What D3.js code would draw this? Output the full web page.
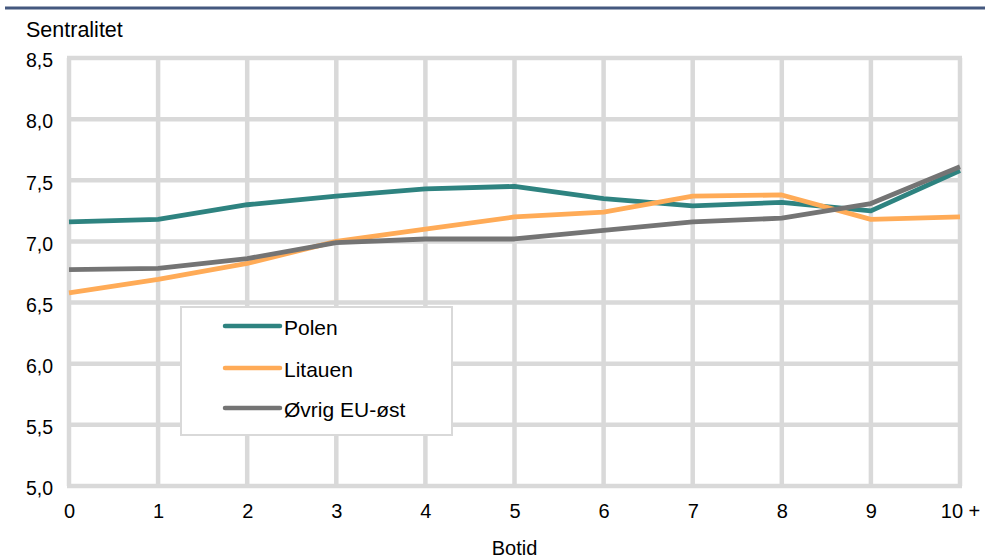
<!DOCTYPE html>
<html><head><meta charset="utf-8">
<script src="https://cdn.jsdelivr.net/npm/d3@7"></script>
<style>body{margin:0;background:#fff}svg{display:block}text{font-family:"Liberation Sans",Arial,sans-serif;fill:#000}</style>
</head><body><svg id="c" width="985" height="559"></svg>
<script>
const categories = ["0","1","2","3","4","5","6","7","8","9","10 +"];
const polen   = [7.16,7.18,7.30,7.37,7.43,7.45,7.35,7.29,7.32,7.25,7.58];
const litauen = [6.58,6.69,6.82,7.00,7.10,7.20,7.24,7.37,7.38,7.18,7.20];
const ovrig   = [6.77,6.78,6.86,6.99,7.02,7.02,7.09,7.16,7.19,7.31,7.61];
const yTicks  = [5.0,5.5,6.0,6.5,7.0,7.5,8.0,8.5];
const seriesNames = ["Polen","Litauen","Øvrig EU-øst"];
const seriesColors = ["#2e8380","#ffab57","#747474"];
const seriesData = [polen, litauen, ovrig];

const svg = d3.select("#c");
const x = d3.scalePoint().domain(categories).range([69,960]);
const y = d3.scaleLinear().domain([5,8.5]).range([486,58]);

// top rule
svg.append("rect").attr("x",5).attr("y",6.5).attr("width",980).attr("height",3).attr("fill","#44587f");

// grid
const g = svg.append("g");
g.selectAll("line.v").data(categories).enter().append("line")
  .attr("x1",d=>x(d)).attr("x2",d=>x(d)).attr("y1",y(8.5)).attr("y2",y(5))
  .attr("stroke","#d9d9d9").attr("stroke-width",4.5);
g.selectAll("line.h").data(yTicks).enter().append("line")
  .attr("x1",x(categories[0])-2).attr("x2",x(categories[categories.length-1])+2)
  .attr("y1",d=>y(d)).attr("y2",d=>y(d))
  .attr("stroke","#d9d9d9").attr("stroke-width",4.5);

// axes labels
const fmt = d => d3.format(".1f")(d).replace(".",",");
svg.append("g").attr("transform","translate(53,0)")
  .call(d3.axisLeft(y).tickValues(yTicks).tickFormat(fmt).tickSize(0).tickPadding(0))
  .call(a=>{a.select(".domain").remove();a.selectAll("text").attr("font-size",19.5).attr("dy","0.45em").attr("font-family","Liberation Sans, Arial, sans-serif").attr("fill","#000");});
svg.append("g").attr("transform","translate(0,504)")
  .call(d3.axisBottom(x).tickSize(0).tickPadding(0))
  .call(a=>{a.select(".domain").remove();a.selectAll("text").attr("font-size",20).attr("font-family","Liberation Sans, Arial, sans-serif").attr("fill","#000");});

svg.append("text").attr("x",26).attr("y",37).attr("font-size",21.5).text("Sentralitet");
svg.append("text").attr("x",x("5")).attr("y",555).attr("text-anchor","middle").attr("font-size",20).text("Botid");

// lines
const line = d3.line().x((d,i)=>x(categories[i])).y(d=>y(d));
seriesData.forEach((s,k)=>{
  svg.append("path").datum(s).attr("d",line).attr("fill","none")
    .attr("stroke",seriesColors[k]).attr("stroke-width",4.8).attr("stroke-linejoin","round");
});

// legend
svg.append("rect").attr("x",181).attr("y",307).attr("width",271).attr("height",128)
  .attr("fill","#fff").attr("stroke","#d9d9d9").attr("stroke-width",2);
const ly = [326,368,408];
seriesNames.forEach((n,k)=>{
  svg.append("line").attr("x1",225).attr("x2",280).attr("y1",ly[k]).attr("y2",ly[k])
    .attr("stroke",seriesColors[k]).attr("stroke-width",4.5).attr("stroke-linecap","round");
  svg.append("text").attr("x",284).attr("y",ly[k]+9).attr("font-size",21).text(n);
});
</script></body></html>
